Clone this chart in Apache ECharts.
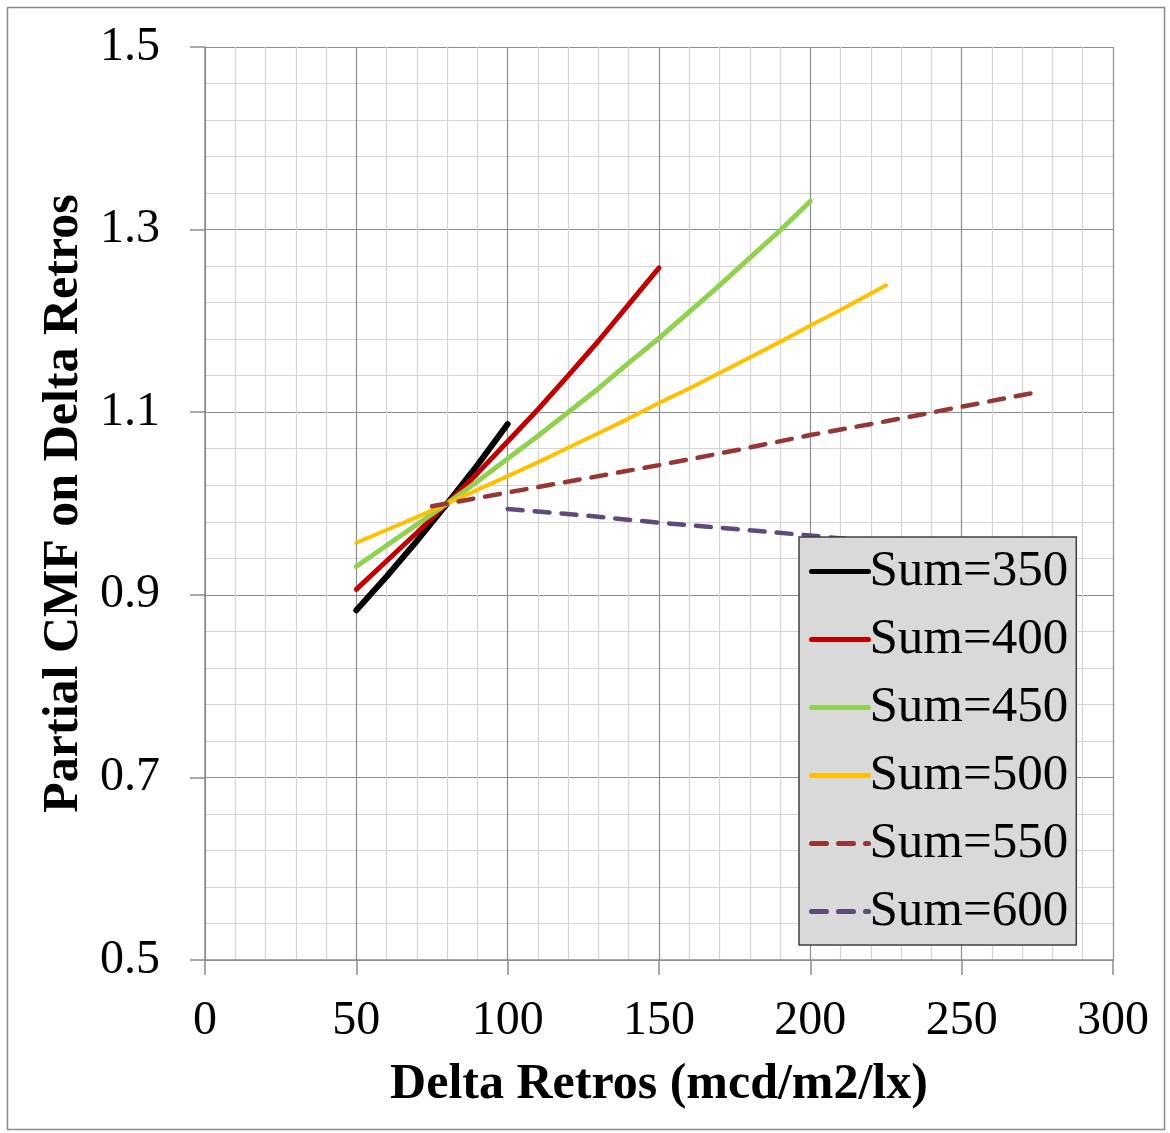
<!DOCTYPE html>
<html>
<head>
<meta charset="utf-8">
<script src="https://cdn.jsdelivr.net/npm/echarts@6/dist/echarts.min.js"></script>
<style>
  html, body { margin: 0; padding: 0; background: #fff; }
  #chart { width: 1170px; height: 1133px; }
</style>
</head>
<body>
<div id="chart"></div>
<script>
// values
var x350 = [50, 60, 70, 80, 90, 100];
var y350 = [0.883, 0.920, 0.959, 1.000, 1.042, 1.087];

var x400 = [50, 60, 70, 80, 90, 100, 110, 120, 130, 140, 150];
var y400 = [0.906, 0.937, 0.968, 1.000, 1.033, 1.068, 1.103, 1.140, 1.178, 1.218, 1.258];

var x450 = [50, 60, 70, 80, 90, 100, 110, 120, 130, 140, 150, 160, 170, 180, 190, 200];
var y450 = [0.931, 0.954, 0.977, 1.000, 1.024, 1.049, 1.074, 1.100, 1.126, 1.154, 1.181, 1.210, 1.239, 1.269, 1.299, 1.331];

var x500 = [50, 60, 70, 80, 90, 100, 110, 120, 130, 140, 150, 160, 170, 180, 190, 200, 210, 220, 225];
var y500 = [0.957, 0.971, 0.985, 1.000, 1.015, 1.030, 1.045, 1.061, 1.077, 1.093, 1.110, 1.126, 1.143, 1.160, 1.177, 1.195, 1.212, 1.230, 1.239];

var x550 = [75, 100, 125, 150, 175, 200, 225, 250, 275];
var y550 = [0.997, 1.012, 1.027, 1.042, 1.058, 1.075, 1.090, 1.106, 1.122];

var x600 = [100, 125, 150, 175, 200, 225, 250, 275];
var y600 = [0.994, 0.987, 0.979, 0.972, 0.965, 0.957, 0.950, 0.943];

var seriesNames = ['Sum=350', 'Sum=400', 'Sum=450', 'Sum=500', 'Sum=550', 'Sum=600'];
var seriesColors = ['#000000', '#c00000', '#92d050', '#ffc000', '#953735', '#604a7b'];

function pairs(xs, ys) {
    var out = [];
    for (var i = 0; i < xs.length; i++) out.push([xs[i], ys[i]]);
    return out;
}

var allData = [pairs(x350, y350), pairs(x400, y400), pairs(x450, y450),
               pairs(x500, y500), pairs(x550, y550), pairs(x600, y600)];
var widths = [6, 5, 5, 4, 4.5, 4.5];

var serif = 'Liberation Serif';

var myChart = echarts.init(document.getElementById('chart'));

var series = [];
for (var i = 0; i < allData.length; i++) {
    series.push({
        name: seriesNames[i],
        type: 'line',
        data: allData[i],
        showSymbol: false,
        symbol: 'none',
        smooth: false,
        color: seriesColors[i],
        lineStyle: {
            color: seriesColors[i],
            width: widths[i],
            type: i >= 4 ? [15, 12] : 'solid',
            cap: 'round'
        }
    });
}

var option = {
    backgroundColor: '#ffffff',
    animation: false,
    graphic: [{
        type: 'rect',
        shape: { x: 7.5, y: 7.5, width: 1157, height: 1122 },
        style: { fill: 'none', stroke: '#8a8a8a', lineWidth: 1.5 },
        silent: true
    }],
    grid: { left: 205, right: 57, top: 47, bottom: 173 },
    legend: {
        orient: 'vertical',
        left: 799,
        top: 537,
        padding: [9, 8, 8, 10],
        backgroundColor: '#d9d9d9',
        borderColor: '#404040',
        borderWidth: 1.5,
        itemWidth: 57,
        itemHeight: 14,
        itemGap: 17,
        itemStyle: { opacity: 0 },
        lineStyle: { width: 5, cap: 'round' },
        textStyle: { fontFamily: serif, fontSize: 51, color: '#000', lineHeight: 50, padding: [0, 0, 0, -4] },
        data: seriesNames
    },
    xAxis: {
        type: 'value',
        min: 0,
        max: 300,
        interval: 50,
        name: 'Delta Retros (mcd/m2/lx)',
        nameLocation: 'middle',
        nameGap: 100,
        nameTextStyle: { fontFamily: serif, fontSize: 50, fontWeight: 'bold', color: '#000' },
        axisLine: { show: true, lineStyle: { color: '#8c8c8c', width: 1.5 } },
        axisTick: { show: true, inside: false, length: 15, lineStyle: { color: '#8c8c8c', width: 1.5 } },
        axisLabel: { fontFamily: serif, fontSize: 48, color: '#000', margin: 37 },
        splitLine: { show: true, lineStyle: { color: '#8c8c8c', width: 1.2 } },
        minorTick: { show: false, splitNumber: 5 },
        minorSplitLine: { show: true, lineStyle: { color: '#d4d4d4', width: 1.2 } }
    },
    yAxis: {
        type: 'value',
        min: 0.5,
        max: 1.5,
        interval: 0.2,
        name: 'Partial CMF on Delta Retros',
        nameLocation: 'middle',
        nameGap: 112,
        nameTextStyle: { fontFamily: serif, fontSize: 50, fontWeight: 'bold', color: '#000' },
        axisLine: { show: true, lineStyle: { color: '#8c8c8c', width: 1.5 } },
        axisTick: { show: true, inside: false, length: 15, lineStyle: { color: '#8c8c8c', width: 1.5 } },
        axisLabel: {
            fontFamily: serif, fontSize: 48, color: '#000', margin: 45,
            formatter: function (v) { return v.toFixed(1); }
        },
        splitLine: { show: true, lineStyle: { color: '#8c8c8c', width: 1.2 } },
        minorTick: { show: false, splitNumber: 5 },
        minorSplitLine: { show: true, lineStyle: { color: '#d4d4d4', width: 1.2 } }
    },
    series: series
};

myChart.setOption(option);
</script>
</body>
</html>
